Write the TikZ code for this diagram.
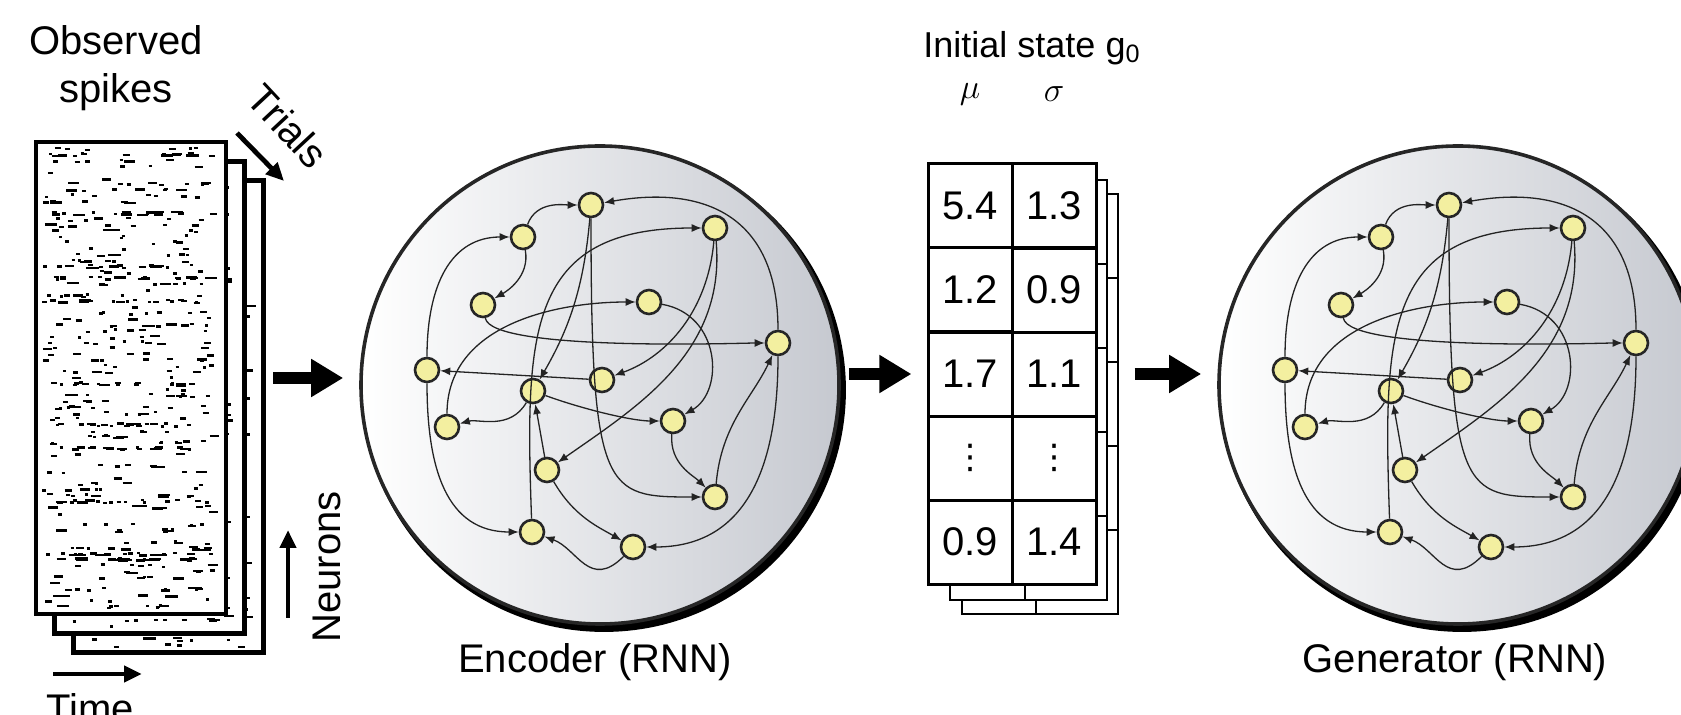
\documentclass[tikz,border=0pt]{standalone}
\usepackage{fontspec}
\setmainfont{Liberation Sans}
\newfontfamily\symfont{DejaVu Sans}
\usetikzlibrary{matrix,arrows.meta,shadows}
\definecolor{neuronfill}{RGB}{243,239,160}
\definecolor{rnngray}{RGB}{198,201,208}
\definecolor{linkgray}{RGB}{35,35,35}
% random raster for one trial: left, top, width, height
\newcommand\spikerows[4]{%
  \foreach \rw in {0,...,78}{%
    \pgfmathsetmacro\yy{#2+7+(#4-14)*(\rw/78)}%
    \pgfmathtruncatemacro\nd{rnd<0.1 ? 20 : 11*rnd}%
    \ifnum\nd>0
      \foreach \dk in {1,...,\nd}{%
        \pgfmathsetmacro\xx{#1+6+rnd*(#3-22)}%
        \pgfmathsetmacro\ll{3+rnd*rnd*12}%
        \pgfmathsetmacro\jy{\yy+rnd*3-1.5}%
        \draw[spike] (\xx,\jy) -- ++(\ll,0);}%
    \fi}}
\newcommand\rnnnet{%
  \node[rnnbody] (body) at (600,385) {};
  \foreach \i/\x/\y in {1/591/205, 2/523/237, 3/715/228, 4/483/305, 5/649/302,
      6/778/343, 7/427/370, 8/602/380, 9/533/391, 10/447/427, 11/673/421,
      12/547/470, 13/715/497, 14/532/532, 15/633/547}
    \node[neuron] (n\i) at (\x,\y) {};
  \draw[link] (n2) to[out=70,in=180] (n1);
  \draw[link] (n7) to[out=90,in=180,looseness=1.2] (n2);
  \draw[link] (n2) to[out=-80,in=30] (n4);
  \draw[link] (n6) to[out=90,in=10,looseness=1.3] (n1);
  \draw[link] (n14) to[out=92,in=180,looseness=1.4] (n3);
  \draw[link] (n10) to[out=90,in=180] (n5);
  \draw[link] (n4) to[out=-80,in=180,looseness=0.3] (n6);
  \draw[link] (n8) -- (n7);
  \draw[link] (n1) to[out=-95,in=60] (n9);
  \draw[link] (n1) .. controls +(0,290) and +(-110,0) .. (n13);
  \draw[link] (n3) to[out=-95,in=20] (n8);
  \draw[link] (n3) to[out=-85,in=35] (n12);
  \draw[link] (n5) to[out=-10,in=30,looseness=1.3] (n11);
  \draw[link] (n9) to[out=-120,in=15] (n10);
  \draw[link] (n9) to[out=-20,in=180,looseness=0.8] (n11);
  \draw[link] (n12) -- (n9);
  \draw[link] (n7) to[out=-90,in=180,looseness=1.2] (n14);
  \draw[link] (n12) to[out=-60,in=150] (n15);
  \draw[link] (n11) to[out=-95,in=135] (n13);
  \draw[link] (n13) to[out=85,in=-115] (n6);
  \draw[link] (n6) to[out=-90,in=0,looseness=1.2] (n15);
  \draw[link] (n15) to[out=-135,in=-20,looseness=1.3] (n14);
}

\begin{document}
\begin{tikzpicture}[x=0.5pt, y=-0.5pt,
  heading/.style={font=\fontsize{20}{24}\selectfont, inner sep=0, align=center},
  sheet/.style={draw, line width=2.2pt, fill=white, minimum width=95pt, minimum height=236pt, inner sep=0},
  spike/.style={line width=1.2pt},
  rnnbody/.style={circle, minimum size=239pt, inner sep=0, draw=black!85, line width=1.8pt,
    left color=white, right color=rnngray,
    drop shadow={opacity=1, fill=black, shadow xshift=2pt, shadow yshift=-2.5pt, shadow scale=1.012}},
  neuron/.style={circle, draw=black!85, fill=neuronfill, line width=1.3pt, minimum size=12pt, inner sep=0},
  link/.style={draw=linkgray, line width=0.65pt, -{Latex[length=5pt,width=4pt]}},
  bigarrow/.style={line width=6pt, -{Triangle[length=16pt,width=18pt]}},
  axisarrow/.style={line width=2.4pt, -{Triangle[length=9pt,width=8pt]}},
  g0cell/.style={draw, fill=white, line width=1.5pt, minimum width=42pt, minimum height=42pt, inner sep=0,
    font=\fontsize{20}{24}\selectfont},
  backcell/.style={draw, line width=1.2pt}]
  \useasboundingbox (0,0) rectangle (1681,715);
  \pgfmathsetseed{11}
  % trials, back one first
  \node[sheet] (trial3) at (168.5,416.5) {};
  \spikerows{73.5}{180.5}{190}{472}
  \node[sheet] (trial2) at (149.5,397.5) {};
  \spikerows{54.5}{161.5}{190}{472}
  \node[sheet] (trial1) at (131,378) {};
  \spikerows{36}{142}{190}{472}

  \node[heading] (obs) at (116,68) {Observed\\spikes};
  \node[heading, rotate=-47] (trials) at (288,126) {Trials};
  \coordinate (trials-a) at (237,133);
  \coordinate (trials-b) at (284,181);
  \draw[axisarrow] (trials-a) -- (trials-b);
  \node[heading, rotate=90] (neurons) at (327,567) {Neurons};
  \coordinate (neurons-a) at (288,618);
  \coordinate (neurons-b) at (288,530);
  \draw[axisarrow] (neurons-a) -- (neurons-b);
  \node[heading, anchor=north] (time) at (90,693) {Time};
  \coordinate (time-a) at (53,674);
  \coordinate (time-b) at (142,674);
  \draw[axisarrow] (time-a) -- (time-b);

  \begin{scope}[name prefix=enc-]
    \rnnnet
  \end{scope}
  \begin{scope}[shift={(858,0)}, name prefix=gen-]
    \rnnnet
  \end{scope}
  \node[heading] (enc-name) at (595,662) {Encoder (RNN)};
  \node[heading] (gen-name) at (1455,662) {Generator (RNN)};

  % g0 table, with the sheets behind it
  \foreach \lo/\ro/\dy in {34/22/30, 22/11/16} {
    \draw[backcell, fill=white] (928+\lo,164+\dy) rectangle (1096+\ro,584+\dy);
    \foreach \k in {1,...,4}
      \draw[backcell] (928+\lo,164+\dy+84*\k) -- (1096+\ro,164+\dy+84*\k);
    \draw[backcell] (1014+\ro,164+\dy) -- (1014+\ro,584+\dy);
  }
  \matrix (g0) at (1012,374) [matrix of nodes, nodes={g0cell}, column sep=-1.5pt, row sep=-1.5pt]
  {
    5.4 & 1.3 \\
    1.2 & 0.9 \\
    1.7 & 1.1 \\
    {\symfont\fontsize{17}{17}\selectfont ⋮} & {\symfont\fontsize{17}{17}\selectfont ⋮} \\
    0.9 & 1.4 \\
  };
  \node[heading, font=\fontsize{18}{22}\selectfont] (g0-title) at (1032,48) {Initial state g\textsubscript{0}};
  \node[font=\fontsize{19}{22}\selectfont] (mu) at ([yshift=34pt]g0-1-1.north) {$\mu$};
  \node[font=\fontsize{19}{22}\selectfont] (sigma) at ([yshift=34pt]g0-1-2.north) {$\sigma$};

  \coordinate (raster-out) at (273,378);
  \draw[bigarrow, shorten >=8pt] (raster-out) -- (raster-out -| enc-body.west);
  \draw[bigarrow, shorten <=4pt, shorten >=4pt] (enc-body.east |- g0.west) -- (g0.west);
  \draw[bigarrow, shorten <=15pt, shorten >=8pt] (g0.east) -- (g0.east -| gen-body.west);
\end{tikzpicture}
\end{document}
